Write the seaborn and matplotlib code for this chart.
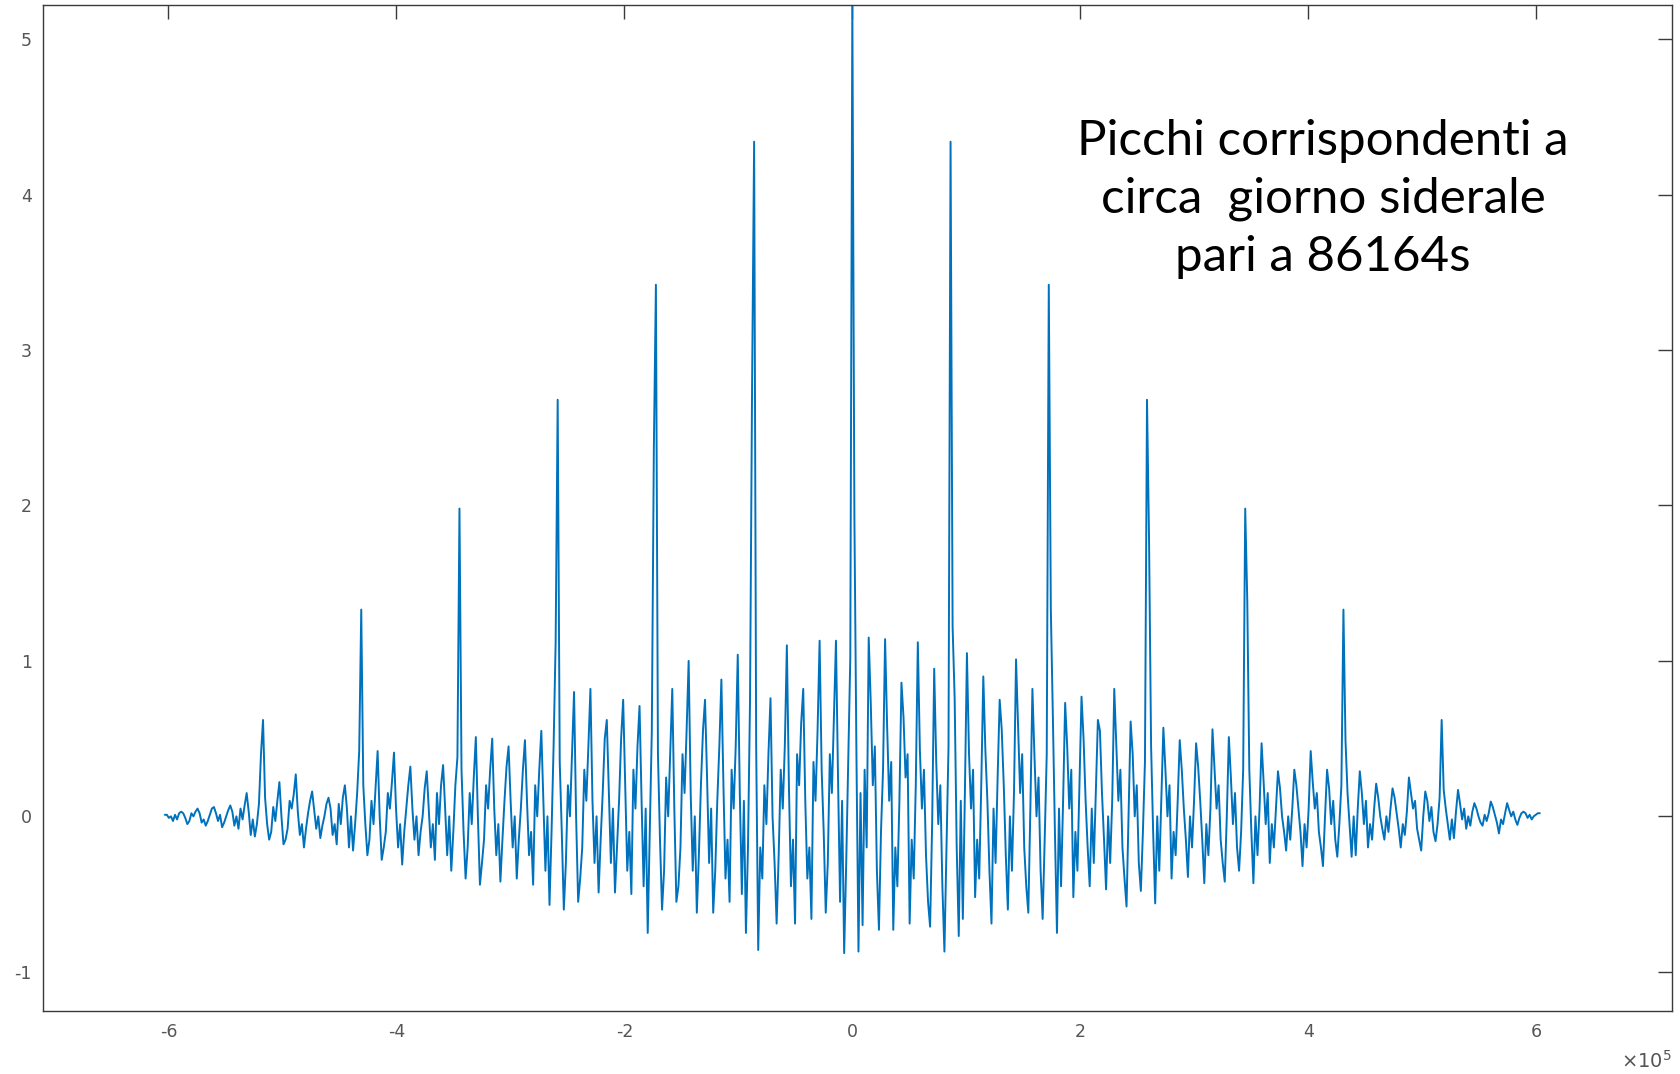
#!/usr/bin/env python3
"""
Autocorrelazione con picchi al giorno siderale (86164 s)
"""

import numpy as np
import matplotlib
matplotlib.use('Agg')
import matplotlib.pyplot as plt
import seaborn as sns

# --- dati ---
DAY = 86164          # s, giorno siderale
PER_DAY = 48         # campioni per giorno (8 per ciascun sotto-ciclo di ~4 h)

# lato positivo (lag crescenti), una riga = un sotto-ciclo
pos_day0 = [5.23, 1.93, 0.40, -0.87, 0.15, -0.70, 0.30, -0.20,
            1.15, 0.73, 0.20, 0.45, -0.35, -0.73, -0.10, 0.30,
            1.14, 0.58, 0.10, 0.35, -0.73, -0.20, -0.45, 0.10,
            0.86, 0.64, 0.25, 0.40, -0.69, -0.15, -0.40, 0.20,
            1.12, 0.43, 0.05, 0.30, -0.25, -0.55, -0.71, -0.05,
            0.95, 0.35, -0.05, 0.20, -0.45, -0.87, -0.20, 0.45]
pos_day1 = [4.34, 1.22, 0.76, -0.20, -0.77, 0.10, -0.66, 0.15,
            1.05, 0.41, 0.05, 0.30, -0.52, -0.15, -0.40, 0.20,
            0.90, 0.43, 0.10, -0.35, -0.69, 0.05, -0.30, 0.25,
            0.75, 0.56, 0.20, -0.25, -0.60, 0.00, -0.35, 0.15,
            1.01, 0.58, 0.15, 0.40, -0.20, -0.45, -0.62, 0.05,
            0.82, 0.39, 0.00, 0.25, -0.35, -0.66, -0.15, 0.40]
pos_day2 = [3.42, 1.33, 0.64, -0.10, -0.75, 0.05, -0.45, 0.10,
            0.73, 0.45, 0.05, 0.30, -0.52, -0.10, -0.35, 0.20,
            0.77, 0.50, 0.10, -0.20, -0.45, 0.05, -0.30, 0.15,
            0.62, 0.55, 0.15, -0.15, -0.47, 0.00, -0.30, 0.10,
            0.82, 0.45, 0.10, 0.30, -0.20, -0.40, -0.58, 0.00,
            0.61, 0.40, 0.00, 0.20, -0.30, -0.48, -0.10, 0.35]
pos_day3 = [2.68, 1.78, 0.45, -0.10, -0.56, 0.00, -0.35, 0.10,
            0.57, 0.30, 0.00, 0.20, -0.40, -0.10, -0.25, 0.10,
            0.49, 0.30, 0.05, -0.15, -0.39, 0.00, -0.20, 0.10,
            0.47, 0.32, 0.10, -0.15, -0.43, -0.05, -0.25, 0.05,
            0.56, 0.30, 0.05, 0.20, -0.15, -0.30, -0.42, 0.00,
            0.51, 0.25, -0.05, 0.15, -0.20, -0.35, -0.10, 0.30]
pos_day4 = [1.98, 1.39, 0.30, -0.10, -0.43, 0.00, -0.25, 0.05,
            0.47, 0.22, -0.05, 0.15, -0.30, -0.05, -0.20, 0.05,
            0.29, 0.18, 0.00, -0.10, -0.22, 0.00, -0.15, 0.05,
            0.30, 0.20, 0.05, -0.10, -0.32, -0.05, -0.20, 0.05,
            0.42, 0.22, 0.05, 0.15, -0.10, -0.20, -0.32, 0.00,
            0.30, 0.18, -0.05, 0.10, -0.15, -0.26, -0.05, 0.20]
pos_day5 = [1.33, 0.49, 0.15, -0.05, -0.26, 0.00, -0.25, 0.05,
            0.29, 0.15, -0.05, 0.10, -0.20, -0.05, -0.15, 0.05,
            0.21, 0.12, 0.00, -0.08, -0.15, 0.00, -0.10, 0.05,
            0.18, 0.12, 0.02, -0.08, -0.20, -0.05, -0.12, 0.03,
            0.25, 0.15, 0.05, 0.10, -0.08, -0.15, -0.22, 0.00,
            0.16, 0.10, -0.03, 0.06, -0.10, -0.16, -0.05, 0.12]
pos_day6 = [0.62, 0.17, 0.05, -0.05, -0.15, -0.02, -0.14, 0.03,
            0.17, 0.08, -0.02, 0.05, -0.08, 0.00, -0.06, 0.03,
            0.085, 0.05, 0.00, -0.04, -0.06, 0.01, -0.03, 0.02,
            0.095, 0.06, 0.01, -0.04, -0.11, -0.02, -0.05, 0.02,
            0.085, 0.04, 0.00, 0.03, -0.02, -0.055, -0.01, 0.02,
            0.03, 0.02, -0.01, 0.01, -0.02, 0.00, 0.01, 0.02,
            0.02]

# lato negativo, elencato dal lag 0 verso l'esterno
neg_day0 = [5.23, 1.02, 0.35, -0.30, -0.88, 0.10, -0.55, 0.25,
            1.13, 0.65, 0.15, 0.40, -0.30, -0.62, -0.10, 0.30,
            1.13, 0.55, 0.10, 0.35, -0.66, -0.20, -0.40, 0.10,
            0.82, 0.60, 0.20, 0.40, -0.69, -0.15, -0.45, 0.20,
            1.10, 0.45, 0.05, 0.30, -0.25, -0.69, -0.30, 0.00,
            0.76, 0.40, -0.05, 0.20, -0.40, -0.20, -0.86, 0.45]
neg_day1 = [4.34, 2.77, 0.75, -0.20, -0.75, 0.10, -0.50, 0.15,
            1.04, 0.45, 0.05, 0.30, -0.55, -0.15, -0.40, 0.20,
            0.88, 0.45, 0.10, -0.35, -0.62, 0.05, -0.30, 0.25,
            0.75, 0.55, 0.20, -0.25, -0.62, 0.00, -0.35, 0.15,
            1.00, 0.55, 0.15, 0.40, -0.20, -0.45, -0.55, 0.05,
            0.82, 0.40, 0.00, 0.25, -0.35, -0.60, -0.15, 0.40]
neg_day2 = [3.42, 2.37, 0.55, -0.10, -0.75, 0.05, -0.45, 0.10,
            0.71, 0.45, 0.05, 0.30, -0.50, -0.10, -0.35, 0.20,
            0.75, 0.50, 0.10, -0.20, -0.49, 0.05, -0.30, 0.15,
            0.62, 0.50, 0.15, -0.15, -0.49, 0.00, -0.30, 0.10,
            0.82, 0.45, 0.10, 0.30, -0.20, -0.40, -0.55, 0.00,
            0.80, 0.40, 0.00, 0.20, -0.30, -0.60, -0.10, 0.35]
neg_day3 = [2.68, 1.12, 0.45, -0.10, -0.57, 0.00, -0.35, 0.10,
            0.55, 0.30, 0.00, 0.20, -0.44, -0.10, -0.25, 0.10,
            0.49, 0.30, 0.05, -0.15, -0.40, 0.00, -0.20, 0.10,
            0.45, 0.32, 0.10, -0.15, -0.42, -0.05, -0.25, 0.05,
            0.50, 0.30, 0.05, 0.20, -0.15, -0.30, -0.44, 0.00,
            0.51, 0.25, -0.05, 0.15, -0.20, -0.40, -0.10, 0.30]
neg_day4 = [1.98, 0.38, 0.20, -0.10, -0.35, 0.00, -0.25, 0.05,
            0.33, 0.20, -0.05, 0.15, -0.28, -0.05, -0.20, 0.05,
            0.29, 0.18, 0.00, -0.10, -0.25, 0.00, -0.15, 0.05,
            0.32, 0.20, 0.05, -0.10, -0.31, -0.05, -0.20, 0.05,
            0.41, 0.22, 0.05, 0.15, -0.10, -0.20, -0.28, 0.00,
            0.42, 0.18, -0.05, 0.10, -0.15, -0.25, -0.05, 0.20]
neg_day5 = [1.33, 0.42, 0.15, -0.05, -0.22, 0.00, -0.20, 0.05,
            0.20, 0.12, -0.05, 0.08, -0.18, -0.05, -0.12, 0.05,
            0.12, 0.08, 0.00, -0.06, -0.14, 0.00, -0.08, 0.04,
            0.16, 0.10, 0.02, -0.08, -0.20, -0.05, -0.12, 0.03,
            0.27, 0.14, 0.05, 0.10, -0.08, -0.15, -0.18, 0.00,
            0.22, 0.10, -0.03, 0.06, -0.10, -0.15, -0.05, 0.12]
neg_day6 = [0.62, 0.40, 0.08, -0.05, -0.13, -0.02, -0.12, 0.03,
            0.15, 0.07, -0.02, 0.05, -0.08, 0.00, -0.06, 0.03,
            0.07, 0.04, 0.00, -0.04, -0.07, 0.01, -0.03, 0.02,
            0.06, 0.05, 0.01, -0.03, -0.06, -0.02, -0.04, 0.02,
            0.05, 0.03, 0.00, 0.02, -0.03, -0.05, -0.01, 0.02,
            0.03, 0.02, -0.02, 0.01, -0.03, 0.00, -0.01, 0.01,
            0.01]

x_ticks = [-6, -4, -2, 0, 2, 4, 6]
y_ticks = [-1, 0, 1, 2, 3, 4, 5]
annotation = "Picchi corrispondenti a\ncirca  giorno siderale\npari a 86164s"

LINE_COLOR = '#0072BD'
AX_COLOR = '#3a3a3a'
LABEL_COLOR = '#555555'


def main():
    pos = pos_day0 + pos_day1 + pos_day2 + pos_day3 + pos_day4 + pos_day5 + pos_day6
    neg = neg_day0 + neg_day1 + neg_day2 + neg_day3 + neg_day4 + neg_day5 + neg_day6
    values = neg[::-1][:-1] + pos
    n_side = len(pos) - 1
    lags = np.arange(-n_side, n_side + 1) * DAY / PER_DAY

    sns.set_style('white')
    plt.rcParams['font.family'] = ['DejaVu Sans']

    fig = plt.figure(figsize=(16.8, 10.74), dpi=100)
    ax = fig.add_axes([0.0256, 0.0587, 0.9696, 0.9367])

    sns.lineplot(x=lags, y=values, ax=ax, color=LINE_COLOR, linewidth=1.4,
                 estimator=None, sort=False)

    ax.set_xlim(-7.10e5, 7.19e5)
    ax.set_ylim(-1.252, 5.22)
    ax.set_xticks([t * 1e5 for t in x_ticks])
    ax.set_xticklabels([str(t) for t in x_ticks])
    ax.set_yticks(y_ticks)
    ax.set_yticklabels([str(t) for t in y_ticks])
    ax.set_xlabel('')
    ax.set_ylabel('')

    for sp in ax.spines.values():
        sp.set_visible(True)
        sp.set_color(AX_COLOR)
        sp.set_linewidth(1.0)
    ax.tick_params(direction='in', top=True, right=True, length=10,
                   width=1.0, color=AX_COLOR, labelcolor=LABEL_COLOR,
                   labelsize=12.5)
    ax.tick_params(axis='x', pad=9)
    ax.tick_params(axis='y', pad=8)

    fig.text(0.995, 0.002, r'$\times10^{5}$', ha='right', va='bottom',
             fontsize=14, color=LABEL_COLOR)

    ax.text(4.13e5, 3.97, annotation, ha='center', va='center',
            fontsize=35.5, family=['Lato', 'DejaVu Sans'], color='black',
            linespacing=1.38)

    plt.savefig('out.png', dpi=100)
    plt.close()


if __name__ == "__main__":
    main()
